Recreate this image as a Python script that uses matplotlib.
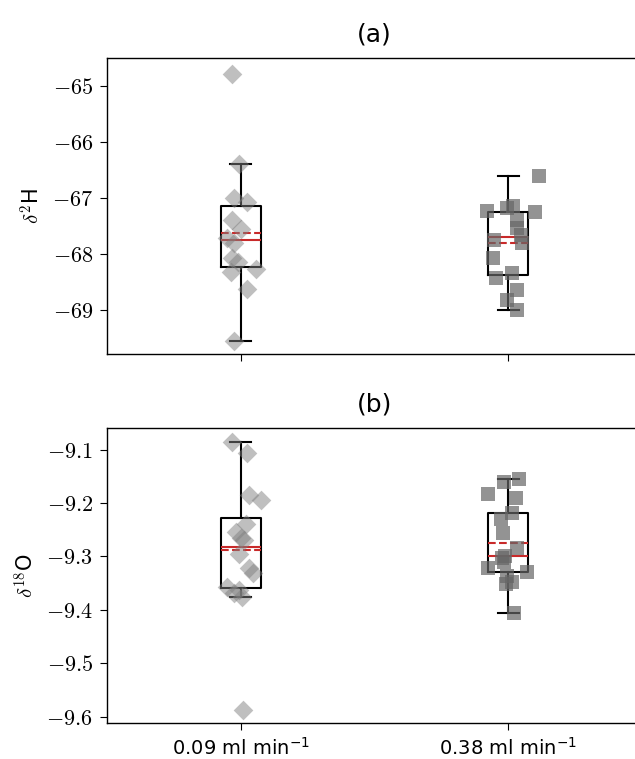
import numpy as np
import matplotlib
matplotlib.use('Agg')
import matplotlib.pyplot as plt
from matplotlib.ticker import FuncFormatter

plt.rcParams['mathtext.fontset'] = 'cm'
plt.rcParams['axes.linewidth'] = 1.0

flow_labels = ['0.09 ml min$^{-1}$', '0.38 ml min$^{-1}$']

# delta 2H, slow flow (values and horizontal jitter)
h2_slow = [-69.56, -68.62, -68.32, -68.27, -68.15, -68.08, -67.80, -67.72,
           -67.55, -67.40, -67.07, -67.00, -66.40, -64.78]
h2_slow_jit = [-0.025, 0.025, -0.037, 0.056, -0.012, -0.031, -0.025, -0.05,
               0.0, -0.031, 0.025, -0.025, -0.006, -0.031]

# delta 2H, fast flow
h2_fast = [-69.00, -68.82, -68.64, -68.43, -68.35, -68.08, -67.81, -67.75,
           -67.66, -67.54, -67.39, -67.26, -67.24, -67.18, -67.15, -66.61]
h2_fast_jit = [0.034, -0.004, 0.034, -0.045, 0.013, -0.057, 0.052, -0.053,
               0.046, 0.034, 0.034, 0.10, -0.078, -0.004, 0.018, 0.115]

# delta 18O, slow flow
o18_slow = [-9.587, -9.376, -9.369, -9.362, -9.357, -9.331, -9.322, -9.295,
            -9.269, -9.266, -9.254, -9.239, -9.195, -9.185, -9.107, -9.085]
o18_slow_jit = [0.009, 0.006, -0.025, -0.007, -0.05, 0.044, 0.031, -0.006,
                0.012, 0.0, -0.019, 0.019, 0.075, 0.031, 0.025, -0.031]

# delta 18O, fast flow
o18_fast = [-9.405, -9.352, -9.348, -9.337, -9.330, -9.322, -9.310, -9.303,
            -9.299, -9.285, -9.257, -9.230, -9.219, -9.191, -9.183, -9.160,
            -9.155]
o18_fast_jit = [0.021, -0.01, 0.013, -0.005, 0.071, -0.075, -0.016, -0.022,
                -0.012, 0.031, -0.019, -0.028, 0.015, 0.028, -0.075, -0.016,
                0.04]

h2_ticks = [-65, -66, -67, -68, -69]
o18_ticks = [-9.1, -9.2, -9.3, -9.4, -9.5, -9.6]


def draw_panel(ax, slow, slow_jit, fast, fast_jit):
    ax.boxplot([slow, fast], positions=[0, 1], widths=0.15, capwidths=0.08,
               showfliers=False, showmeans=True, meanline=True,
               boxprops=dict(color='black', linewidth=1.5),
               whiskerprops=dict(color='black', linewidth=1.5),
               capprops=dict(color='black', linewidth=1.5),
               medianprops=dict(color='#c82a2a', linewidth=1.5),
               meanprops=dict(color='#c82a2a', linewidth=1.5, linestyle='--'),
               zorder=2)
    ax.scatter(np.array(slow_jit), slow, marker='D', s=100, color='gray',
               alpha=0.5, linewidths=0, zorder=3)
    ax.scatter(1 + np.array(fast_jit), fast, marker='s', s=90, color='0.4',
               alpha=0.7, linewidths=0, zorder=3)
    ax.set_xlim(-0.5, 1.5)
    ax.yaxis.set_major_formatter(FuncFormatter(lambda v, p: r'$%g$' % v))
    ax.tick_params(axis='y', labelsize=16)
    ax.tick_params(length=5, pad=5)


fig = plt.figure(figsize=(6.35, 7.59), dpi=100)
ax1 = fig.add_axes([0.1685, 0.5336, 0.8425, 0.390])
ax2 = fig.add_axes([0.1685, 0.0474, 0.8425, 0.3887])

draw_panel(ax1, h2_slow, h2_slow_jit, h2_fast, h2_fast_jit)
ax1.set_ylim(-69.79, -64.5)
ax1.set_yticks(h2_ticks)
ax1.set_xticks([0, 1])
ax1.set_xticklabels([])
ax1.set_ylabel(r'$\delta^2$H', fontsize=15, labelpad=6)
ax1.set_title('(a)', fontsize=18, pad=12)

draw_panel(ax2, o18_slow, o18_slow_jit, o18_fast, o18_fast_jit)
ax2.set_ylim(-9.612, -9.0594)
ax2.set_yticks(o18_ticks)
ax2.set_xticks([0, 1])
ax2.set_xticklabels(flow_labels, fontsize=14, math_fontfamily='dejavusans')
ax2.set_ylabel(r'$\delta^{18}$O', fontsize=15, labelpad=6)
ax2.set_title('(b)', fontsize=18, pad=12)

fig.savefig('out.png', dpi=100)
